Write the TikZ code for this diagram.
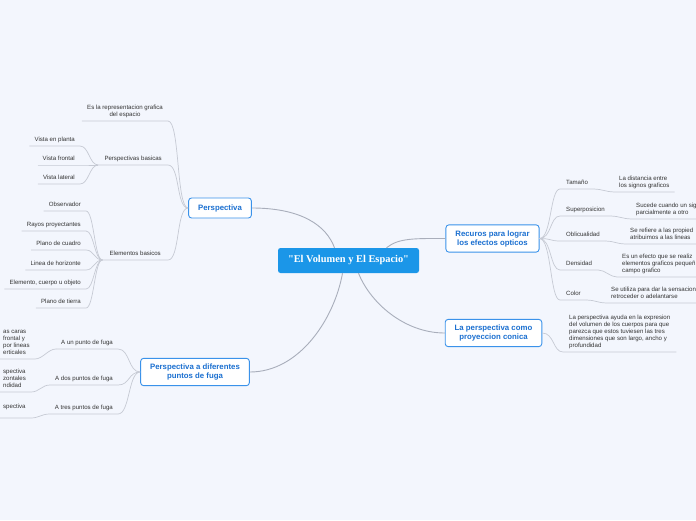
\documentclass[tikz,border=0pt]{standalone}
\usepackage{fontspec}
\setmainfont{Liberation Sans}
\newfontfamily\volfont{Liberation Serif}
\definecolor{bgblue}{HTML}{F3F6FD}
\definecolor{volblue}{HTML}{1B96E8}
\definecolor{topicline}{HTML}{3A92EA}
\definecolor{topictext}{HTML}{1A6FD0}
\definecolor{leaftext}{HTML}{333333}
\definecolor{branchgray}{HTML}{A9AEBB}
\definecolor{twiggray}{HTML}{C6CAD4}
\tikzset{
  central/.style={fill=volblue, rounded corners=2.5pt, text=white,
    font=\volfont\bfseries\fontsize{10.4}{12}\selectfont,
    minimum width=141pt, minimum height=25pt},
  topic/.style={draw=topicline, line width=0.9pt, fill=white, rounded corners=3pt,
    text=topictext, font=\bfseries\fontsize{7.8}{9}\selectfont, align=center,
    inner xsep=9.5pt, inner ysep=5.5pt, minimum height=20pt},
  leaf/.style={text=leaftext, font=\fontsize{6.1}{7}\selectfont, align=left,
    inner xsep=5pt, inner ysep=3pt, text depth=1.4pt},
  branch/.style={draw=branchgray, line width=0.9pt},
  twig/.style={draw=twiggray, line width=0.7pt},
}
\begin{document}
\begin{tikzpicture}[x=1pt, y=-1pt]
    \useasboundingbox (0,0) rectangle (696,520);
    \clip (0,0) rectangle (696,520);
    \fill[bgblue] (0,0) rectangle (696,520);

    % Central topic and main branches
    \node[central] (vol) at (348.5,260.5) {"El Volumen y El Espacio"};
    \node[topic] (persp) at (220,208) {Perspectiva};
    \node[topic] (fuga) at (195,372) {Perspectiva a diferentes\\puntos de fuga};
    \node[topic] (recur) at (492.5,238.5) {Recuros para lograr\\los efectos opticos};
    \node[topic] (conica) at (493.5,333) {La perspectiva como\\proyeccion conica};
    \draw[branch] (persp.east) .. controls +(50,0) and +(-8,-22) .. ([xshift=-14pt]vol.north);
    \draw[branch] ([xshift=38pt]vol.north) .. controls +(12,-10) and +(-30,0) .. (recur.west);
    \draw[branch] ([xshift=-6pt]vol.south) .. controls +(-8,45) and +(50,0) .. (fuga.east);
    \draw[branch] ([xshift=10pt]vol.south) .. controls +(12,30) and +(-40,0) .. (conica.west);

    % Perspectiva
    \node[leaf, anchor=south east, align=center] (repr) at (168,121) {Es la representacion grafica\\del espacio};
    \node[leaf, anchor=south east, inner xsep=6pt] (basic) at (168,165) {Perspectivas basicas};
    \node[leaf, anchor=south east, inner xsep=7pt] (elem) at (168,260) {Elementos basicos};
    \foreach \n in {repr,basic,elem}
        \draw[twig] (\n.south west) -- (\n.south east) .. controls +(12,0) and +(-12,0) .. (persp.west);

    \node[leaf, anchor=south east] (planta) at (80,146) {Vista en planta};
    \node[leaf, anchor=south east] (frontal) at (80,165) {Vista frontal};
    \node[leaf, anchor=south east] (lateral) at (80,184) {Vista lateral};
    \foreach \n in {planta,frontal,lateral}
        \draw[twig] (\n.south west) -- (\n.south east) .. controls +(9,0) and +(-9,0) .. (basic.south west);

    \node[leaf, anchor=south east] (obs) at (86,211) {Observador};
    \node[leaf, anchor=south east] (rayos) at (86,231) {Rayos proyectantes};
    \node[leaf, anchor=south east] (cuadro) at (86,250) {Plano de cuadro};
    \node[leaf, anchor=south east] (horiz) at (86,270) {Linea de horizonte};
    \node[leaf, anchor=south east] (objeto) at (86,289) {Elemento, cuerpo u objeto};
    \node[leaf, anchor=south east] (tierra) at (86,308) {Plano de tierra};
    \foreach \n in {obs,rayos,cuadro,horiz,objeto,tierra}
        \draw[twig] (\n.south west) -- (\n.south east) .. controls +(8,0) and +(-8,0) .. (elem.south west);

    % Perspectiva a diferentes puntos de fuga
    \node[leaf, anchor=south east] (uno) at (118,349) {A un punto de fuga};
    \node[leaf, anchor=south east] (dos) at (118,385) {A dos puntos de fuga};
    \node[leaf, anchor=south east] (tres) at (118,414) {A tres puntos de fuga};
    \foreach \n in {uno,dos,tres}
        \draw[twig] (\n.south west) -- (\n.south east) .. controls +(12,0) and +(-12,0) .. (fuga.west);

    \node[leaf, anchor=south west] (unoT) at (-2,359) {as caras\\frontal y\\ por lineas\\erticales};
    \node[leaf, anchor=south west] (dosT) at (-2,392) {spectiva\\zontales\\ndidad};
    \node[leaf, anchor=south west, inner ysep=8pt] (tresT) at (-2,418) {spectiva};
    \foreach \p/\c in {uno/unoT,dos/dosT,tres/tresT}
        \draw[twig] (\c.south west) -- (\c.south east) .. controls +(8,0) and +(-8,0) .. (\p.south west);

    % Recuros para lograr los efectos opticos
    \node[leaf, anchor=south west, inner xsep=6pt] (tam) at (560,189) {Tamaño};
    \node[leaf, anchor=south west, inner xsep=6pt] (sup) at (560,216) {Superposicion};
    \node[leaf, anchor=south west, inner xsep=6pt] (obl) at (560,241) {Oblicualidad};
    \node[leaf, anchor=south west, inner xsep=6pt] (dens) at (560,270) {Densidad};
    \node[leaf, anchor=south west, inner xsep=6pt] (col) at (560,300) {Color};
    \foreach \n in {tam,sup,obl,dens,col}
        \draw[twig] (recur.east) .. controls +(12,0) and +(-10,0) .. (\n.south west) -- (\n.south east);

    \node[leaf, anchor=south west] (tamT) at (614,192) {La distancia entre\\los signos graficos};
    \node[leaf, anchor=south west] (supT) at (631,219) {Sucede cuando un sig\\parcialmente a otro};
    \node[leaf, anchor=south west] (oblT) at (625,244) {Se refiere a las propied\\atribuimos a las lineas};
    \node[leaf, anchor=south west] (densT) at (617,277) {Es un efecto que se realiz\\elementos graficos pequeñ\\campo grafico};
    \node[leaf, anchor=south west] (colT) at (606,303) {Se utiliza para dar la sensacion\\retroceder o adelantarse};
    \foreach \p/\c in {tam/tamT,sup/supT,obl/oblT,dens/densT,col/colT}
        \draw[twig] (\p.south east) .. controls +(7,0) and +(-7,0) .. (\c.south west) -- (\c.south east);

    % La perspectiva como proyeccion conica
    \node[leaf, anchor=south west, inner xsep=6pt] (conT) at (563,352) {La perspectiva ayuda en la expresion\\del volumen de los cuerpos para que\\parezca que estos tuviesen las tres\\dimensiones que son largo, ancho y\\profundidad};
    \draw[twig] (conica.east) .. controls +(12,0) and +(-10,0) .. (conT.south west) -- (conT.south east);
\end{tikzpicture}
\end{document}
